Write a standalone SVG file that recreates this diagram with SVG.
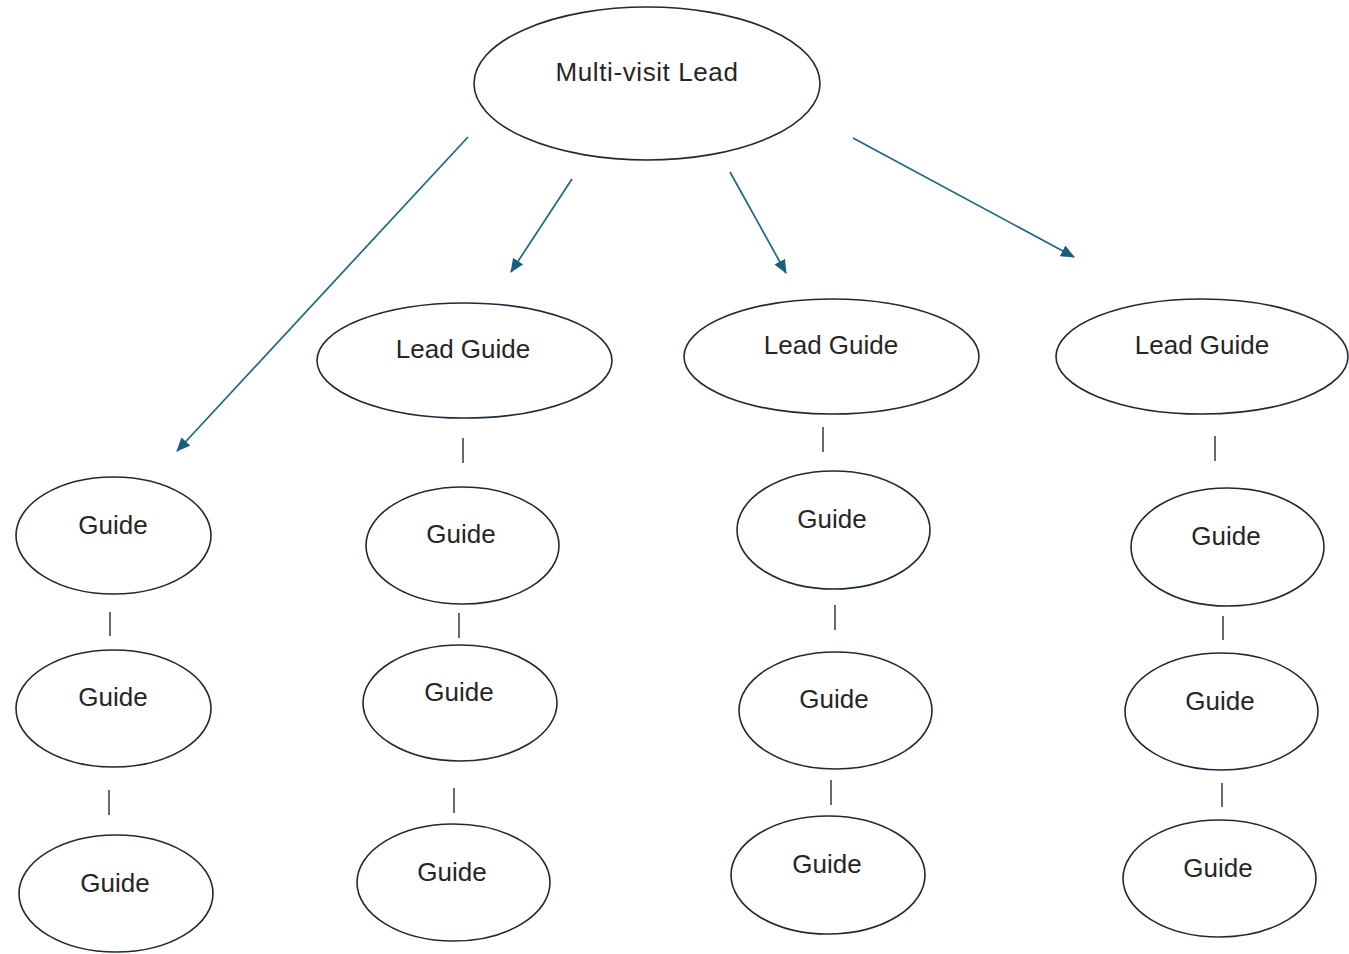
<svg xmlns="http://www.w3.org/2000/svg" width="1349" height="954" viewBox="0 0 1349 954">
<defs>
<style>
.node ellipse{fill:#ffffff;stroke:#1e2a36;stroke-width:1.6}
.node text{font-family:"Liberation Sans",Arial,sans-serif;font-size:26px;fill:#262626;text-anchor:middle}
.root text{letter-spacing:0.6px}
.arrow{stroke:#1f6682;stroke-width:1.7;fill:none;marker-end:url(#ah)}
.link{stroke:#2a2a2a;stroke-width:1.4}
</style>
<marker id="ah" viewBox="0 0 14 12" refX="13" refY="6" markerWidth="14" markerHeight="12" markerUnits="userSpaceOnUse" orient="auto">
<path d="M0,0 L14,6 L0,12 z" fill="#1a5f7d"/>
</marker>
</defs>
<rect width="1349" height="954" fill="#ffffff"/>
<g id="connectors">
<line class="arrow" x1="468" y1="137" x2="177" y2="451"/>
<line class="arrow" x1="572" y1="179" x2="511" y2="272"/>
<line class="arrow" x1="730" y1="172" x2="786" y2="273"/>
<line class="arrow" x1="853" y1="138" x2="1074" y2="257"/>
<line class="link" x1="463" y1="438" x2="463" y2="463"/>
<line class="link" x1="110" y1="612" x2="110" y2="636"/>
<line class="link" x1="109" y1="790" x2="109" y2="815"/>
<line class="link" x1="459" y1="613" x2="459" y2="638"/>
<line class="link" x1="454" y1="788" x2="454" y2="813"/>
<line class="link" x1="823" y1="427" x2="823" y2="452"/>
<line class="link" x1="835" y1="605" x2="835" y2="630"/>
<line class="link" x1="831" y1="780" x2="831" y2="805"/>
<line class="link" x1="1215" y1="436" x2="1215" y2="461"/>
<line class="link" x1="1223" y1="616" x2="1223" y2="640"/>
<line class="link" x1="1222" y1="783" x2="1222" y2="807"/>
</g>
<g id="root" class="node root"><ellipse cx="647" cy="83.5" rx="173" ry="76.5"/><text x="647" y="81">Multi-visit Lead</text></g>
<g id="lead1" class="node"><ellipse cx="464.5" cy="360.5" rx="147.5" ry="57.5"/><text x="463" y="358">Lead Guide</text></g>
<g id="lead2" class="node"><ellipse cx="831.5" cy="356.5" rx="147.5" ry="57.5"/><text x="831" y="354">Lead Guide</text></g>
<g id="lead3" class="node"><ellipse cx="1202" cy="356.5" rx="146" ry="57.5"/><text x="1202" y="354">Lead Guide</text></g>
<g id="g1a" class="node"><ellipse cx="113.5" cy="535.5" rx="97.5" ry="58.5"/><text x="113" y="534">Guide</text></g>
<g id="g1b" class="node"><ellipse cx="113.5" cy="708.5" rx="97.5" ry="58.5"/><text x="113" y="706">Guide</text></g>
<g id="g1c" class="node"><ellipse cx="116" cy="893.5" rx="97" ry="58.5"/><text x="115" y="892">Guide</text></g>
<g id="g2a" class="node"><ellipse cx="462.5" cy="545.5" rx="96.5" ry="58.5"/><text x="461" y="543">Guide</text></g>
<g id="g2b" class="node"><ellipse cx="460" cy="703" rx="97" ry="58"/><text x="459" y="701">Guide</text></g>
<g id="g2c" class="node"><ellipse cx="453.5" cy="882.5" rx="96.5" ry="58.5"/><text x="452" y="881">Guide</text></g>
<g id="g3a" class="node"><ellipse cx="833.5" cy="530" rx="96.5" ry="59"/><text x="832" y="528">Guide</text></g>
<g id="g3b" class="node"><ellipse cx="835.5" cy="710.5" rx="96.5" ry="58.5"/><text x="834" y="708">Guide</text></g>
<g id="g3c" class="node"><ellipse cx="828" cy="875" rx="97" ry="59"/><text x="827" y="873">Guide</text></g>
<g id="g4a" class="node"><ellipse cx="1227.5" cy="547" rx="96.5" ry="59"/><text x="1226" y="545">Guide</text></g>
<g id="g4b" class="node"><ellipse cx="1221.5" cy="711.5" rx="96.5" ry="58.5"/><text x="1220" y="710">Guide</text></g>
<g id="g4c" class="node"><ellipse cx="1219.5" cy="878.5" rx="96.5" ry="58.5"/><text x="1218" y="877">Guide</text></g>
</svg>
